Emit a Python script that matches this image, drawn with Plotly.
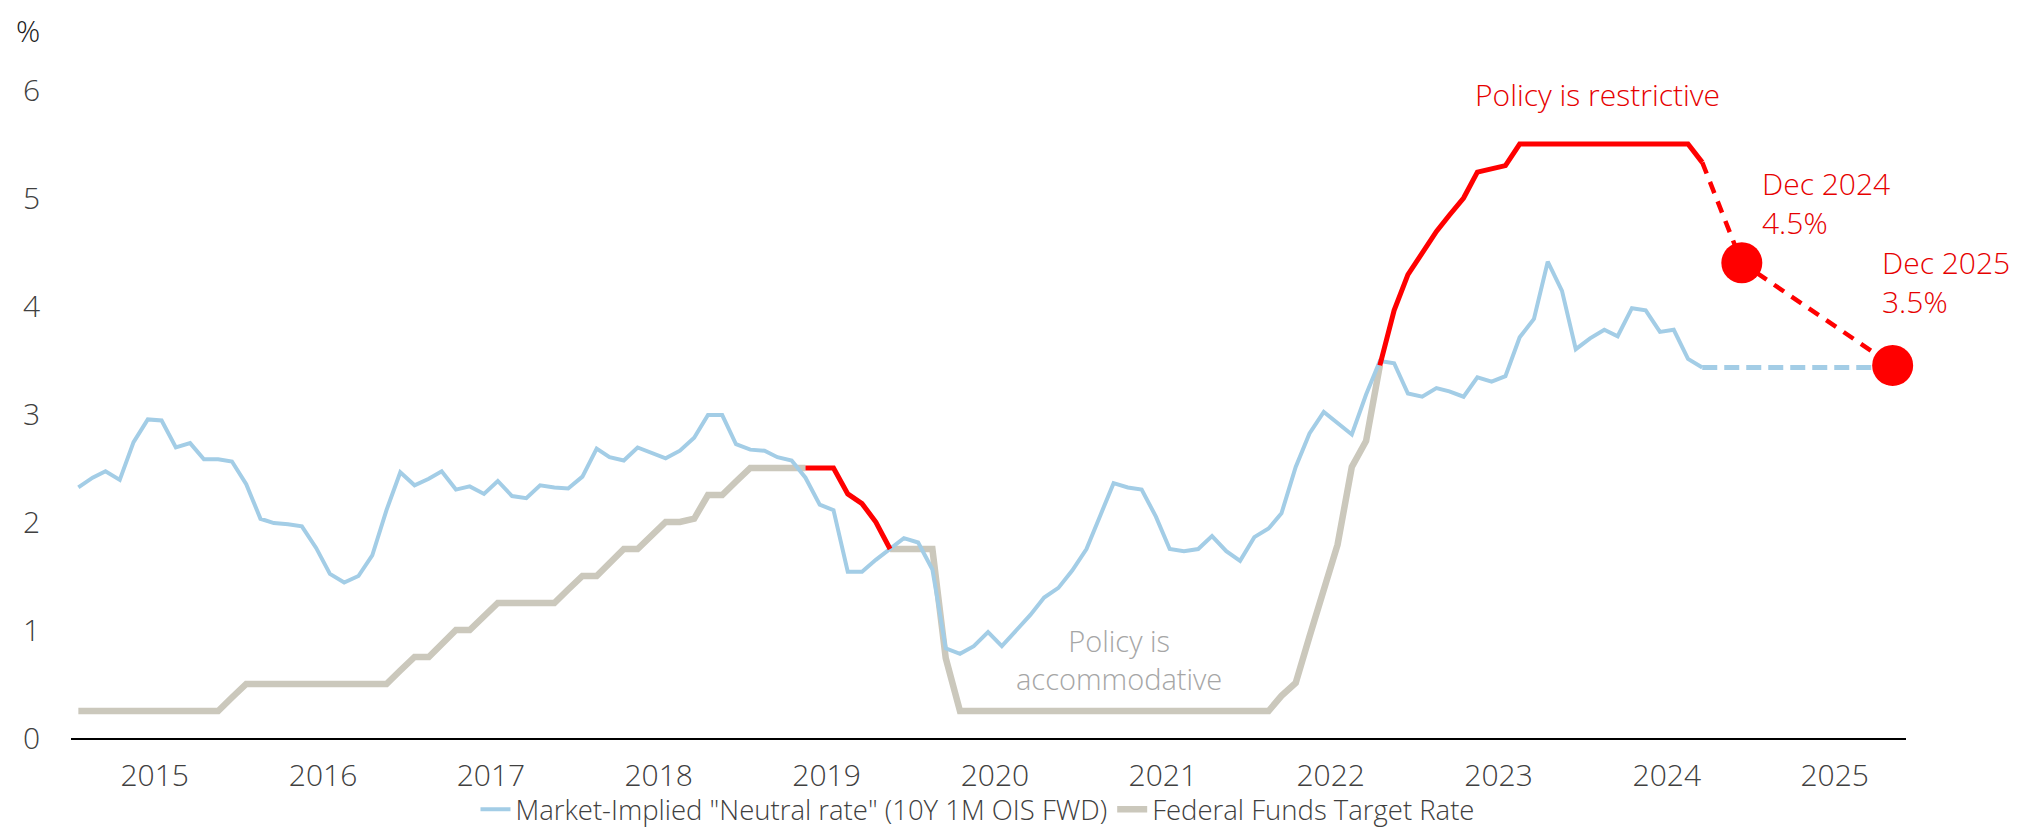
import pandas as pd
import plotly.graph_objects as go

# monthly series, Jan 2015 .. Sep 2024
START = "2015-01-01"

neutral_rate = [
    2.32, 2.41, 2.47, 2.39, 2.74, 2.95, 2.94, 2.69, 2.73, 2.58, 2.58, 2.56,
    2.35, 2.03, 1.99, 1.98, 1.96, 1.76, 1.52, 1.44, 1.50, 1.69, 2.11, 2.46,
    2.34, 2.40, 2.47, 2.30, 2.33, 2.26, 2.38, 2.24, 2.22, 2.34, 2.32, 2.31,
    2.42, 2.68, 2.60, 2.57, 2.69, 2.64, 2.59, 2.66, 2.78, 2.99, 2.99, 2.72,
    2.67, 2.66, 2.60, 2.57, 2.41, 2.16, 2.11, 1.54, 1.54, 1.65, 1.75, 1.85,
    1.81, 1.56, 0.83, 0.78, 0.85, 0.98, 0.85, 0.99, 1.14, 1.30, 1.39, 1.55,
    1.75, 2.07, 2.36, 2.32, 2.30, 2.05, 1.75, 1.73, 1.75, 1.87, 1.73, 1.64,
    1.86, 1.94, 2.08, 2.51, 2.82, 3.02, 2.92, 2.81, 3.18, 3.49, 3.47, 3.19,
    3.16, 3.24, 3.21, 3.16, 3.34, 3.30, 3.35, 3.71, 3.88, 4.41, 4.14, 3.60,
    3.70, 3.78, 3.72, 3.98, 3.96, 3.76, 3.78, 3.51, 3.43,
]

fed_funds = [
    0.25, 0.25, 0.25, 0.25, 0.25, 0.25, 0.25, 0.25, 0.25, 0.25, 0.25, 0.375,
    0.5, 0.5, 0.5, 0.5, 0.5, 0.5, 0.5, 0.5, 0.5, 0.5, 0.5, 0.625,
    0.75, 0.75, 0.875, 1.0, 1.0, 1.125, 1.25, 1.25, 1.25, 1.25, 1.25, 1.375,
    1.5, 1.5, 1.625, 1.75, 1.75, 1.875, 2.0, 2.0, 2.03, 2.25, 2.25, 2.375,
    2.5, 2.5, 2.5, 2.5, 2.5, 2.5, 2.5, 2.26, 2.17, 2.0, 1.75, 1.75,
    1.75, 1.75, 0.74, 0.25, 0.25, 0.25, 0.25, 0.25, 0.25, 0.25, 0.25, 0.25,
    0.25, 0.25, 0.25, 0.25, 0.25, 0.25, 0.25, 0.25, 0.25, 0.25, 0.25, 0.25,
    0.25, 0.25, 0.39, 0.51, 0.94, 1.36, 1.79, 2.51, 2.75, 3.45, 3.96, 4.29,
    4.49, 4.69, 4.84, 5.0, 5.24, 5.27, 5.30, 5.5, 5.5, 5.5, 5.5, 5.5,
    5.5, 5.5, 5.5, 5.5, 5.5, 5.5, 5.5, 5.5, 5.33,
]

# periods where the policy rate sits above the neutral rate
restrictive_periods = [("2019-05-01", "2019-11-01"), ("2022-10-01", "2024-09-01")]

# projections (as placed on the chart)
fed_fcst_dates = ["2024-09-01", "2024-11-26", "2025-10-20"]
fed_fcst = [5.33, 4.40, 3.45]
neutral_fcst_dates = ["2024-09-01", "2025-10-20"]
neutral_fcst = [3.43, 3.43]
point_dates = ["2024-11-26", "2025-10-20"]
point_values = [4.40, 3.45]

years = list(range(2015, 2026))

BLUE = "#a3cde6"
GREY = "#cbc8bc"
RED = "#ff0000"
TEXT_RED = "#e60000"
FONT = "Open Sans, Noto Sans, sans-serif"

dates = pd.date_range(START, periods=len(neutral_rate), freq="MS")
df = pd.DataFrame({"date": dates, "neutral": neutral_rate, "fed": fed_funds})

in_red = pd.Series(False, index=df.index)
inside_red = pd.Series(False, index=df.index)
for a, b in restrictive_periods:
    in_red |= (df["date"] >= a) & (df["date"] <= b)
    inside_red |= (df["date"] > a) & (df["date"] < b)
df["red"] = df["fed"].where(in_red)
df["grey"] = df["fed"].where(~inside_red)
# last point sits under the red segment
df.loc[df.index[-1], "grey"] = None

fig = go.Figure()
fig.add_trace(go.Scatter(
    x=df["date"], y=df["grey"], mode="lines", name="Federal Funds Target Rate",
    line=dict(color=GREY, width=6.5), connectgaps=False, legendrank=2,
))
fig.add_trace(go.Scatter(
    x=df["date"], y=df["neutral"], mode="lines",
    name='Market-Implied "Neutral rate" (10Y 1M OIS FWD)',
    line=dict(color=BLUE, width=4), legendrank=1,
))
fig.add_trace(go.Scatter(
    x=neutral_fcst_dates, y=neutral_fcst, mode="lines", showlegend=False,
    line=dict(color=BLUE, width=5, dash="15px,7px"),
))
fig.add_trace(go.Scatter(
    x=df["date"], y=df["red"], mode="lines", showlegend=False,
    line=dict(color=RED, width=5), connectgaps=False,
))
fig.add_trace(go.Scatter(
    x=fed_fcst_dates, y=fed_fcst, mode="lines", showlegend=False,
    line=dict(color=RED, width=4.5, dash="12px,9px"),
))
fig.add_trace(go.Scatter(
    x=point_dates, y=point_values, mode="markers", showlegend=False,
    marker=dict(color=RED, size=41), cliponaxis=False,
))
fig.update_traces(hoverinfo="skip")

ann_font = dict(family=FONT, size=30, color=TEXT_RED, weight=300)
fig.add_annotation(x="2024-01-17", y=5.96, text="Policy is restrictive",
                   showarrow=False, font=ann_font, xanchor="center", yanchor="middle")
fig.add_annotation(x="2025-01-04", y=4.95, text="Dec 2024<br>4.5%", align="left",
                   showarrow=False, font=ann_font, xanchor="left", yanchor="middle")
fig.add_annotation(x="2025-09-22", y=4.22, text="Dec 2025<br>3.5%", align="left",
                   showarrow=False, font=ann_font, xanchor="left", yanchor="middle")
fig.add_annotation(x="2021-03-13", y=0.73, text="Policy is<br>accommodative",
                   showarrow=False, xanchor="center", yanchor="middle",
                   font=dict(family=FONT, size=29, color="#a6a6a6", weight=300))
fig.add_annotation(xref="paper", yref="paper", x=-0.0235, y=730 / 648, text="%",
                   showarrow=False, xanchor="center", yanchor="top",
                   font=dict(family=FONT, size=30, color="#1a1a1a", weight=300))

fig.update_xaxes(
    type="date", range=["2014-12-16", "2025-11-18"],
    tickmode="array", tickvals=[f"{y}-06-16" for y in years],
    ticktext=[str(y) for y in years],
    showgrid=False, zeroline=False, ticks="",
    showline=True, linecolor="#000000", linewidth=1.5,
    ticklabelstandoff=10,
    tickfont=dict(family=FONT, size=30, color="#404040", weight=300),
)
fig.update_yaxes(
    range=[0, 6], tickmode="linear", tick0=0, dtick=1,
    showgrid=False, zeroline=False, showline=False, ticks="",
    ticklabelstandoff=30,
    tickfont=dict(family=FONT, size=30, color="#404040", weight=300),
)
fig.update_layout(
    width=2018, height=828,
    margin=dict(l=63, r=120, t=82, b=98, autoexpand=False),
    plot_bgcolor="white", paper_bgcolor="white",
    font=dict(family=FONT, color="#404040"),
    showlegend=True,
    legend=dict(
        orientation="h", x=0.494, xanchor="center", y=-0.11, yanchor="middle",
        font=dict(family=FONT, size=27.5, color="#404040", weight=300),
        itemwidth=30, traceorder="normal", bgcolor="rgba(0,0,0,0)",
        borderwidth=0,
    ),
)

fig.write_html("out.html")
